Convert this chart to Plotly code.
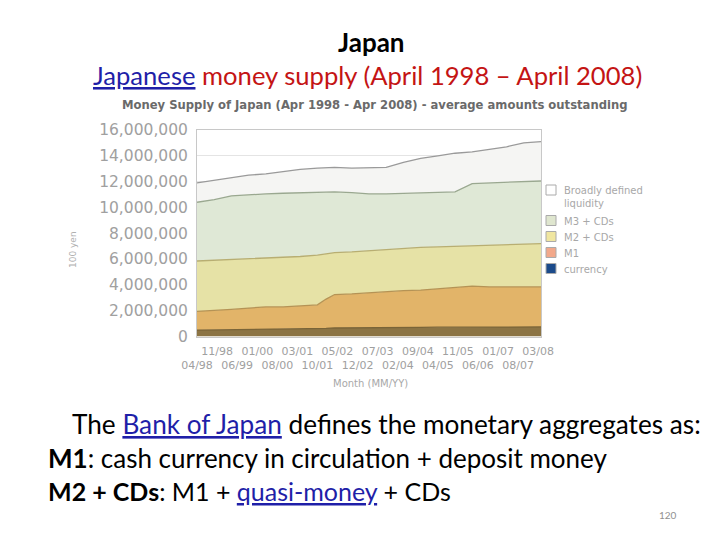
import plotly.graph_objects as go

# ---- data (units: 100 million yen) ----
dates = ["1998-04-01", "1998-10-01", "1999-04-01", "1999-10-01", "2000-04-01", "2000-10-01",
         "2001-04-01", "2001-10-01", "2002-01-01", "2002-04-01", "2002-10-01", "2003-04-01",
         "2003-10-01", "2004-04-01", "2004-10-01", "2005-04-01", "2005-10-01", "2006-04-01",
         "2006-10-01", "2007-04-01", "2007-10-01", "2008-04-01"]
currency = [500000, 510000, 520000, 540000, 560000, 570000, 580000, 600000, 630000, 660000, 680000,
            690000, 700000, 700000, 710000, 720000, 720000, 730000, 730000, 730000, 730000, 740000]
m1 = [1950000, 2000000, 2100000, 2200000, 2300000, 2300000, 2350000, 2450000, 2900000, 3250000, 3300000,
      3400000, 3500000, 3550000, 3600000, 3700000, 3800000, 3900000, 3850000, 3850000, 3850000, 3850000]
m2_cds = [5850000, 5900000, 5950000, 6000000, 6100000, 6150000, 6200000, 6300000, 6400000, 6500000, 6550000,
          6650000, 6750000, 6850000, 6900000, 6950000, 7000000, 7000000, 7050000, 7100000, 7150000, 7200000]
m3_cds = [10400000, 10600000, 10900000, 11000000, 11050000, 11100000, 11150000, 11200000, 11200000, 11200000,
          11150000, 11050000, 11050000, 11100000, 11150000, 11200000, 11200000, 11850000, 11900000, 11950000,
          12000000, 12050000]
liquidity = [11900000, 12100000, 12300000, 12500000, 12600000, 12800000, 12950000, 13050000, 13100000,
             13100000, 13050000, 13100000, 13100000, 13500000, 13800000, 14000000, 14200000, 14300000,
             14500000, 14700000, 15000000, 15100000]

tick_dates = ["1998-04-01", "1998-11-01", "1999-06-01", "2000-01-01", "2000-08-01", "2001-03-01",
              "2001-10-01", "2002-05-01", "2002-12-01", "2003-07-01", "2004-02-01", "2004-09-01",
              "2005-04-01", "2005-11-01", "2006-06-01", "2007-01-01", "2007-08-01", "2008-03-01"]
tick_labels = ["04/98", "11/98", "06/99", "01/00", "08/00", "03/01", "10/01", "05/02", "12/02",
               "07/03", "02/04", "09/04", "04/05", "11/05", "06/06", "01/07", "08/07", "03/08"]
y_ticks = [0, 2000000, 4000000, 6000000, 8000000, 10000000, 12000000, 14000000, 16000000]

series_names = ["currency", "M1", "M2 + CDs", "M3 + CDs", "Broadly defined<br>liquidity"]
fill_colors = ["#8c7444", "#e2b469", "#e6e2a6", "#dfe8d6", "#f5f5f3"]
line_colors = ["#7a6438", "#b59355", "#b8ae72", "#9aa890", "#9a9a9a"]
legend_colors = ["#1b4a8a", "#f2a88a", "#f0e6a0", "#dfe6cf", "#ffffff"]

W, H = 720, 540
OFF = 8  # page body margin of the rendered html
def px(x):
    return (x - OFF) / W
def py(y):
    return 1 - (y - OFF) / H

fig = go.Figure()
series = [currency, m1, m2_cds, m3_cds, liquidity]
for i, (name, vals) in enumerate(zip(series_names, series)):
    fig.add_trace(go.Scatter(
        x=dates, y=vals, mode="lines", name=name.replace("<br>", " "), showlegend=False,
        line=dict(color=line_colors[i], width=1.3),
        fill="tozeroy" if i == 0 else "tonexty", fillcolor=fill_colors[i],
        hoverinfo="skip"))

tick_text = [("<br>" + t) if k % 2 == 0 else t for k, t in enumerate(tick_labels)]

fig.update_layout(
    width=W, height=H, margin=dict(l=0, r=0, t=0, b=0, autoexpand=False),
    paper_bgcolor="white", plot_bgcolor="white",
    font=dict(family="DejaVu Sans", color="#999999"),
    showlegend=False,
    xaxis=dict(domain=[px(197), px(541)], type="date", automargin=False,
               range=["1998-04-01", "2008-04-01"],
               tickvals=tick_dates, ticktext=tick_text, tickangle=0,
               tickfont=dict(size=11, color="#a0a0a0"), ticklabelstandoff=4,
               showgrid=False, showline=True, linecolor="#c8c8c8", mirror=True,
               zeroline=False, fixedrange=True),
    yaxis=dict(domain=[py(336.5), py(130)], range=[0, 16000000], automargin=False,
               tickvals=y_ticks, tickformat=",d",
               tickfont=dict(size=15.5, color="#a0a0a0"), ticklabelstandoff=5,
               showgrid=True, gridcolor="#e4e4e4", gridwidth=1,
               showline=True, linecolor="#c8c8c8", mirror=True,
               zeroline=False, fixedrange=True),
)

# legend (drawn as swatches + labels, top to bottom)
legend_rows_y = [190, 220.5, 236.5, 252.5, 268.5]
for k, i in enumerate([4, 3, 2, 1, 0]):
    yc = legend_rows_y[k]
    fig.add_shape(type="rect", xref="paper", yref="paper",
                  x0=px(546), x1=px(556), y0=py(yc + 5), y1=py(yc - 5),
                  fillcolor=legend_colors[i], line=dict(color="#aaaaaa", width=1))
    fig.add_annotation(text=series_names[i], xref="paper", yref="paper",
                       x=px(562), y=py(yc - 7), xanchor="left", yanchor="top",
                       align="left", showarrow=False,
                       font=dict(size=10, color="#a8a8a8", family="DejaVu Sans"))

blue = "#1f1fa8"
ann = [
    dict(text="<b>Japan</b>", x=px(371), y=py(42), font=dict(size=26, color="black", family="Lato")),
    dict(text="<span style='color:%s'><u>Japanese</u></span> money supply (April 1998 – April 2008)" % blue,
         x=px(367), y=py(75), font=dict(size=25.6, color="#c41414", family="Lato")),
    dict(text="<b>Money Supply of Japan (Apr 1998 - Apr 2008) - average amounts outstanding</b>",
         x=px(374), y=py(105), font=dict(size=11.6, color="#6a6a6a", family="DejaVu Sans")),
    dict(text="100 yen", x=px(73), y=py(250), textangle=-90,
         font=dict(size=9, color="#b0b0b0", family="DejaVu Sans")),
    dict(text="Month (MM/YY)", x=px(370), y=py(383),
         font=dict(size=10, color="#a8a8a8", family="DejaVu Sans")),
    dict(text="The <span style='color:%s'><u>Bank of Japan</u></span> defines the monetary aggregates as:" % blue,
         x=px(70), y=py(424), xanchor="left", font=dict(size=26.2, color="black", family="Lato")),
    dict(text="<b>M1</b>: cash currency in circulation + deposit money",
         x=px(46), y=py(458), xanchor="left", font=dict(size=26, color="black", family="Lato")),
    dict(text="<b>M2 + CDs</b>: M1 + <span style='color:%s'><u>quasi-money</u></span> + CDs" % blue,
         x=px(46), y=py(491), xanchor="left", font=dict(size=25, color="black", family="Lato")),
    dict(text="120", x=px(668), y=py(515), font=dict(size=10, color="#909090", family="Lato")),
]
for a in ann:
    a.setdefault("xanchor", "center")
    a.update(xref="paper", yref="paper", showarrow=False, yanchor="middle")
    fig.add_annotation(**a)

fig.write_html("out.html")
